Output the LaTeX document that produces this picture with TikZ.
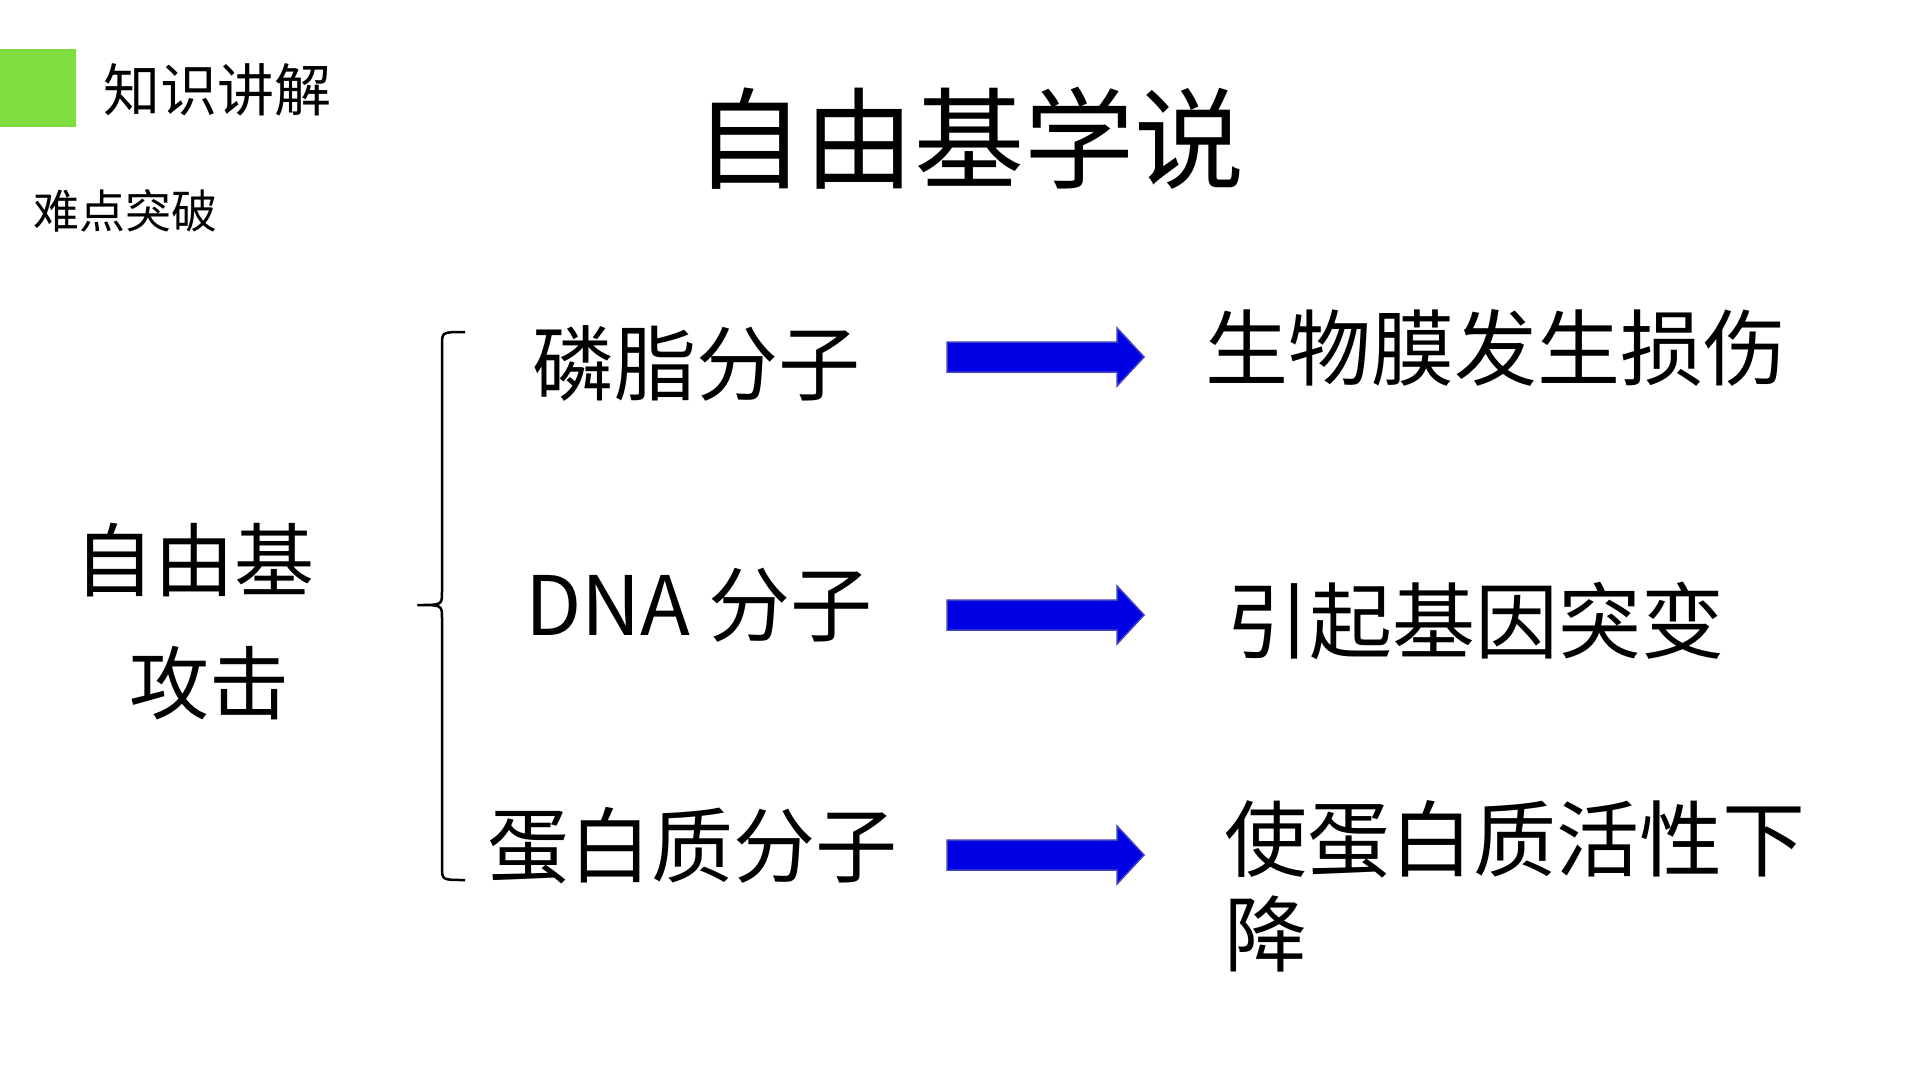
\documentclass[tikz,border=0pt]{standalone}
\usepackage{fontspec}
\setmainfont{Noto Sans CJK SC}

\tikzset{
  txt/.style={inner sep=0pt, font=\fontsize{#1}{#1}\selectfont},
  blockarrow/.style={draw=blue!50!gray, line width=1.5pt, fill=blue!90!black, line join=miter}
}

\begin{document}
\begin{tikzpicture}[x=1pt,y=-1pt]
\useasboundingbox (0,0) rectangle (1920,1080);

\fill[fill={rgb,255:red,128;green,221;blue,64}] (0,49) rectangle (76,127);
\node[txt=57, anchor=west] (sec) at (103,90) {知识讲解};
\node[txt=46, anchor=west] (sub) at (33,211) {难点突破};
\node[txt=110] (title) at (969,138) {自由基学说};

\node[txt=80] (rad) at (194,560) {自由基};
\node[txt=80] (atk) at (209,683) {攻击};

% bracket
\draw[line width=2.5pt, line join=round]
  (465,332) .. controls (442,332) .. (442,345) -- (442,592)
  .. controls (442,605) .. (418,605) .. controls (442,605) .. (442,618)
  -- (442,867) .. controls (442,880) .. (465,880);

\node[txt=82] (lip) at (696,363) {磷脂分子};
\node[txt=82] (dna) at (699,605) {DNA 分子};
\node[txt=82] (pro) at (692,846) {蛋白质分子};

\foreach \y [count=\i] in {357,615,855}
  \draw[blockarrow] (947,\y-15) -- (1117,\y-15) -- (1117,\y-29) -- (1144,\y)
    -- (1117,\y+29) -- (1117,\y+15) -- (947,\y+15) -- cycle;

\node[txt=83, anchor=west] (mem) at (1205,348) {生物膜发生损伤};
\node[txt=83, anchor=west] (gene) at (1226,621) {引起基因突变};
\node[txt=83, anchor=north west, align=left, text width=600pt] (act) at (1224,800)
  {使蛋白质活性下\\[12pt]降};

\end{tikzpicture}
\end{document}
